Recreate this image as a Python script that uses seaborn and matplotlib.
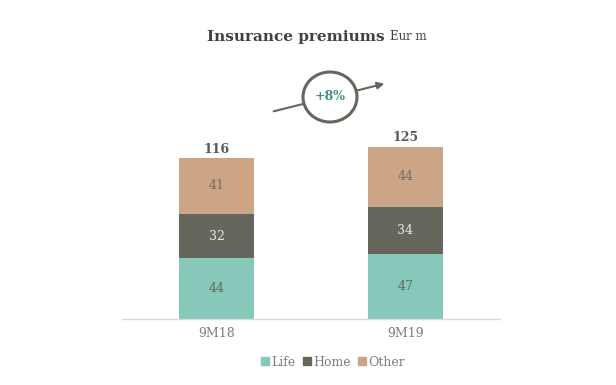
import numpy as np
import pandas as pd
import matplotlib
matplotlib.use("Agg")
import matplotlib.pyplot as plt
import seaborn as sns
from matplotlib.patches import Ellipse, FancyArrowPatch
from matplotlib.lines import Line2D

# -----------------------------
# Data
# -----------------------------
periods = ["9M18", "9M19"]
life = [44, 47]
home = [32, 34]
other = [41, 44]
totals = [116, 125]
growth_label = "+8%"

segments = ["Life", "Home", "Other"]
colors = {"Life": "#86C8BA", "Home": "#66665C", "Other": "#CCA486"}
label_colors = {"Life": "#66665C", "Home": "#E6E6E6", "Other": "#7A6A5E"}

sns.set_theme(style="white")
plt.rcParams["font.family"] = ["DejaVu Serif"]

fig = plt.figure(figsize=(6.16, 3.85), dpi=100)
W, H = 616, 385
ax = fig.add_axes([122 / W, 66 / H, 378 / W, 279 / H])

df = pd.DataFrame({"period": periods, "Life": life, "Home": home, "Other": other})
df["cum_life"] = df["Life"]
df["cum_home"] = df["Life"] + df["Home"]
df["cum_other"] = df["cum_home"] + df["Other"]

# stacked bars drawn as overlapping cumulative layers
for col, seg in [("cum_other", "Other"), ("cum_home", "Home"), ("cum_life", "Life")]:
    sns.barplot(data=df, x="period", y=col, color=colors[seg], width=0.40,
                saturation=1, ax=ax, linewidth=0)

# segment labels
for i in range(len(periods)):
    base = 0
    for seg in segments:
        v = df.loc[i, seg]
        ax.text(i, base + v / 2, f"{v}", ha="center", va="center",
                fontsize=9, color=label_colors[seg])
        base += v
    ax.text(i, totals[i] + 2, f"{totals[i]}", ha="center", va="bottom",
            fontsize=9, fontweight="bold", color="#595959")

ax.set_xlim(-0.5, 1.5)
ax.set_ylim(0, 279 / 1.379)
ax.set_xlabel("")
ax.set_ylabel("")
ax.set_yticks([])
ax.tick_params(axis="x", length=0, labelsize=9, labelcolor="#7F7F7F", pad=6)
for s in ["top", "right", "left"]:
    ax.spines[s].set_visible(False)
ax.spines["bottom"].set_color("#D9D9D9")
ax.spines["bottom"].set_linewidth(1)

# title
fig.text(385 / W, 1 - 37 / H, "Insurance premiums", ha="right", va="center",
         fontsize=11, fontweight="bold", color="#404040")
fig.text(390 / W, 1 - 37 / H, "Eur m", ha="left", va="center",
         fontsize=8.5, color="#404040")

# growth arrow with circle
arrow = FancyArrowPatch((271 / W, 1 - 112 / H), (387 / W, 1 - 83 / H),
                        transform=fig.transFigure, arrowstyle="-|>",
                        mutation_scale=10, color="#66665C", lw=1.5)
fig.add_artist(arrow)
circ = Ellipse((330 / W, 1 - 97 / H), 54 / W, 50 / H, transform=fig.transFigure,
               facecolor="white", edgecolor="#66665C", lw=2.2, zorder=5)
fig.add_artist(circ)
fig.text(330 / W, 1 - 97 / H, growth_label, ha="center", va="center",
         fontsize=9, fontweight="bold", color="#3E8E86", zorder=6)

# legend
handles = [Line2D([], [], marker="s", linestyle="", markersize=6,
                  markerfacecolor=colors[s], markeredgecolor=colors[s]) for s in segments]
fig.legend(handles, segments, loc="center", bbox_to_anchor=(331 / W, 1 - 362 / H),
           ncol=3, frameon=False, fontsize=9, handletextpad=-0.1, handlelength=1.2,
           columnspacing=0.3, labelcolor="#7F7F7F", borderaxespad=0, borderpad=0)

fig.savefig("out.png", dpi=100)
